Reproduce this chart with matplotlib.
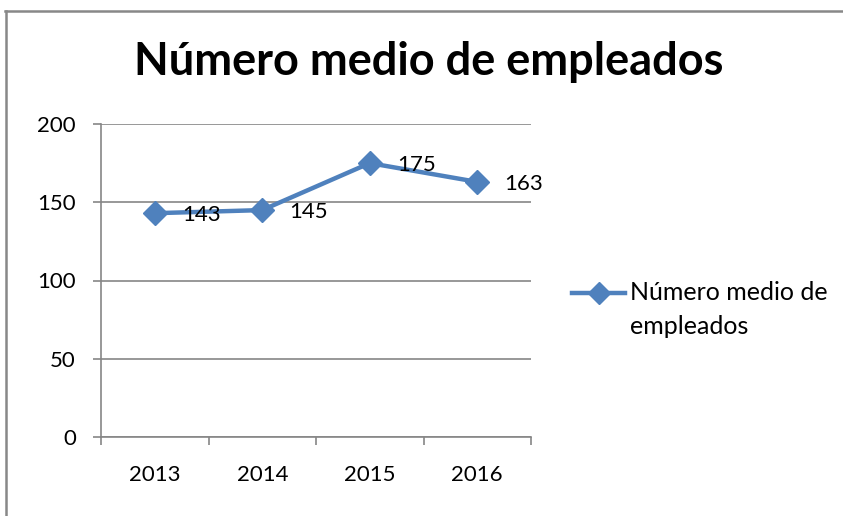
import matplotlib.pyplot as plt
from matplotlib.lines import Line2D

plt.rcParams['font.family'] = ['Lato', 'DejaVu Sans']

years = ["2013", "2014", "2015", "2016"]
empleados = [143, 145, 175, 163]
serie = "Número medio de empleados"

W, H = 843, 516
BLUE = "#4F81BD"
GRAY = "#868686"

fig = plt.figure(figsize=(W / 100, H / 100), dpi=100)
ax = fig.add_axes([101 / W, 1 - 437 / H, 430 / W, 313 / H])

x = list(range(len(years)))
ax.plot(x, empleados, color=BLUE, lw=3.2, marker="D", ms=12, zorder=3)
for xi, v in zip(x, empleados):
    ax.annotate(str(v), (xi, v), xytext=(27, -2), textcoords="offset pixels",
                ha="left", va="center", fontsize=16, zorder=4)

ax.set_xlim(-0.5, 3.5)
ax.set_ylim(0, 200)
ax.set_yticks([0, 50, 100, 150, 200])
ax.set_xticks([-0.5, 0.5, 1.5, 2.5, 3.5], minor=False)
ax.set_xticklabels([])
ax.set_xticks(x, minor=True)
ax.set_xticklabels(years, minor=True)
ax.tick_params(axis="x", which="major", length=6, width=1.2, color=GRAY)
ax.tick_params(axis="x", which="minor", length=0, pad=20, labelsize=16)
ax.tick_params(axis="y", length=6, width=1.2, color=GRAY, pad=12, labelsize=16)
ax.grid(axis="y", color=GRAY, lw=1.2, zorder=0)
for s in ["top", "right"]:
    ax.spines[s].set_visible(False)
for s in ["left", "bottom"]:
    ax.spines[s].set_color(GRAY)
    ax.spines[s].set_linewidth(1.2)

fig.text(429 / W, 1 - 62 / H, serie, ha="center", va="center",
         fontsize=32.5, fontweight="bold")

# legend, handle next to first line of the label as in the original
ly = 1 - 293 / H
fig.add_artist(Line2D([572 / W, 598.5 / W, 625 / W], [ly, ly, ly], color=BLUE,
                      lw=3.2, marker="D", ms=11, markevery=[1]))
fig.text(630 / W, ly, "Número medio de", ha="left", va="center", fontsize=18)
fig.text(630 / W, 1 - 327 / H, "empleados", ha="left", va="center", fontsize=18)

fig.add_artist(Line2D([5 / W, 1], [1 - 11 / H, 1 - 11 / H], color="#888888", lw=1.8))
fig.add_artist(Line2D([6 / W, 6 / W], [0, 1 - 11 / H], color="#888888", lw=1.8))

fig.savefig("out.png", dpi=100)
